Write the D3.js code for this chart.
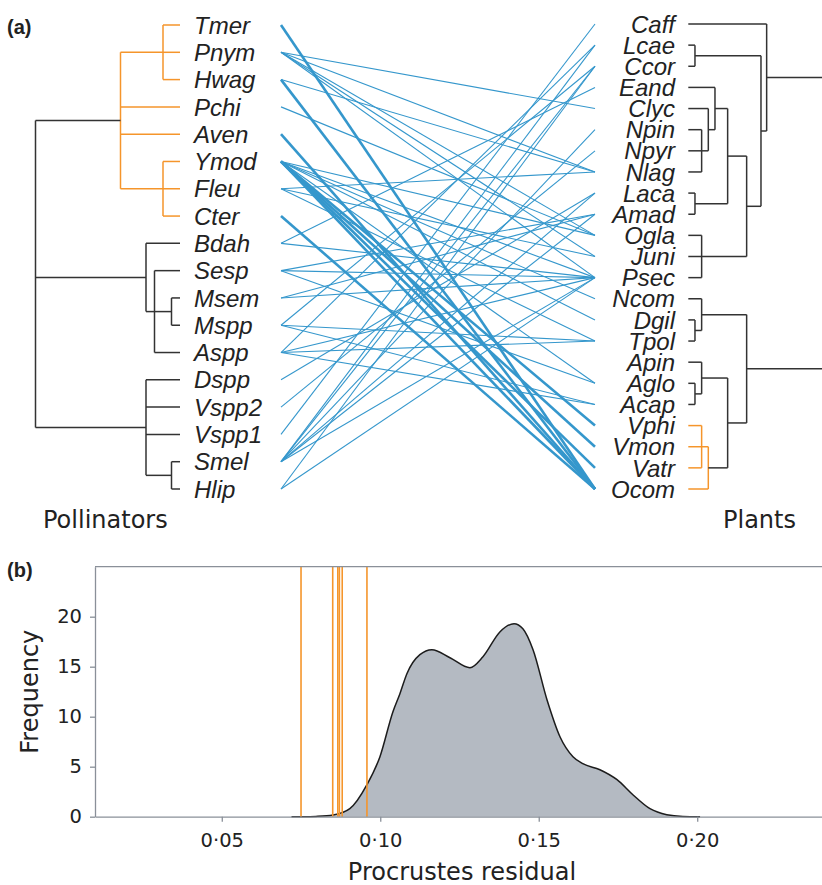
<!DOCTYPE html>
<html><head><meta charset="utf-8">
<script src="https://cdn.jsdelivr.net/npm/d3@7"></script>
<style>body{margin:0;background:#fff}</style>
</head><body>
<svg id="c" width="822" height="885"></svg>
<script>
// ---------------- DATA ----------------
const pollinators = ["Tmer","Pnym","Hwag","Pchi","Aven","Ymod","Fleu","Cter","Bdah","Sesp","Msem","Mspp","Aspp","Dspp","Vspp2","Vspp1","Smel","Hlip"];
const plants = ["Caff","Lcae","Ccor","Eand","Clyc","Npin","Npyr","Nlag","Laca","Amad","Ogla","Juni","Psec","Ncom","Dgil","Tpol","Apin","Aglo","Acap","Vphi","Vmon","Vatr","Ocom"];

// dendrograms: h = merge height, c = children, hl = highlighted clade
const pollinatorTree = {h:17, c:[
  {h:7, hl:true, c:[{h:2, c:["Tmer","Pnym","Hwag"]}, "Pchi", "Aven", {h:2, c:["Ymod","Fleu","Cter"]}]},
  {h:4, c:["Bdah", {h:3, c:["Sesp", {h:1, c:["Msem","Mspp"]}, "Aspp"]}]},
  {h:4, c:["Dspp","Vspp2","Vspp1", {h:1, c:["Smel","Hlip"]}]}
]};
const plantTree = {h:22, c:[
  {h:11.75, c:["Caff", {h:10.9, c:[{h:1, c:["Lcae","Ccor"]},
     {h:8.75, c:[{h:5.9, c:[{h:4, c:["Eand", {h:3, c:["Clyc", {h:2, c:["Npin","Npyr","Nlag"]}]}]}, {h:1, c:["Laca","Amad"]}]},
                 {h:2, c:["Ogla","Juni","Psec"]}]}]}]},
  {h:8.75, c:[{h:2, c:["Ncom", {h:1, c:["Dgil","Tpol"]}]},
     {h:5.9, c:[{h:2, c:["Apin", {h:1, c:["Aglo","Acap"]}]},
                {h:3, hl:true, c:[{h:2, c:["Vphi","Vmon","Vatr"]}, "Ocom"]}]}]}
]};

// interaction links
const coreLinks = [["Tmer","Ocom"],["Hwag","Ocom"],["Aven","Ocom"],["Cter","Ocom"],
  ["Ymod","Vphi"],["Ymod","Vmon"],["Ymod","Vatr"],["Ymod","Ocom"]];
const otherLinks = [
  ["Pnym","Clyc"],["Pnym","Nlag"],["Pnym","Ogla"],["Pnym","Juni"],["Pnym","Psec"],
  ["Hwag","Nlag"],["Pchi","Ogla"],
  ["Ymod","Ogla"],["Ymod","Psec"],["Ymod","Ncom"],["Ymod","Dgil"],["Ymod","Aglo"],
  ["Fleu","Nlag"],["Fleu","Juni"],["Fleu","Tpol"],
  ["Bdah","Eand"],["Bdah","Psec"],
  ["Sesp","Psec"],["Sesp","Aglo"],["Sesp","Amad"],
  ["Msem","Psec"],["Msem","Amad"],
  ["Mspp","Ccor"],["Mspp","Tpol"],["Mspp","Acap"],
  ["Aspp","Lcae"],["Aspp","Psec"],["Aspp","Tpol"],["Aspp","Acap"],
  ["Dspp","Laca"],["Vspp2","Npyr"],["Vspp1","Caff"],
  ["Smel","Lcae"],["Smel","Ccor"],["Smel","Npin"],["Smel","Laca"],["Smel","Amad"],["Smel","Psec"],
  ["Hlip","Ccor"],["Hlip","Psec"]
];

// panel b
const nullResidual = [0.072,0.0760,0.0797,0.0851,0.0904,0.0958,0.0999,0.1040,0.1062,0.1084,0.1125,0.1163,0.1220,0.1283,0.1324,0.1378,0.1422,0.1450,0.1482,0.1526,0.1567,0.1608,0.1639,0.1693,0.1747,0.1797,0.1851,0.1904,0.1955,0.2009];
const nullFrequency = [0,0,0.03,0.17,0.8,3.2,6.0,10.5,12.3,14.3,16.2,16.7,15.9,14.9,16.0,18.5,19.3,18.8,16.7,11.7,8.0,6.0,5.3,4.7,3.7,2.2,0.8,0.2,0.03,0];
const observedResidual = [0.0750,0.0850,0.0866,0.0871,0.0880,0.0958];
const xTicks = [0.05,0.10,0.15,0.20];
const yTicks = [0,5,10,15,20];

// ---------------- DRAW ----------------
const svg = d3.select("#c");
const BLUE = "#3597cc", ORANGE = "#f5952b", DARK = "#333333", TXT = "#222222";
const labelFont = "'Liberation Sans', Arial, sans-serif";
const dv = "'DejaVu Sans', sans-serif";

const yP = d3.scalePoint().domain(pollinators).range([25, 489]);
const yQ = d3.scalePoint().domain(plants).range([24, 489]);
const xLeftTree = d3.scaleLinear().domain([0, 17]).range([180, 35.5]);
const xRightTree = d3.scaleLinear().domain([0, 22]).range([688.3, 835]);

function drawTree(g, tree, yOf, xs) {
  function rec(n, hl) {
    if (typeof n === "string") return {y: yOf(n), h: 0};
    const isHl = hl || !!n.hl;
    const kids = n.c.map(k => rec(k, isHl));
    const col = isHl ? ORANGE : DARK;
    const y0 = kids[0].y, y1 = kids[kids.length - 1].y;
    kids.forEach(k => g.append("line")
      .attr("x1", xs(k.h)).attr("x2", xs(n.h)).attr("y1", k.y).attr("y2", k.y)
      .attr("stroke", col).attr("stroke-width", 1.5));
    g.append("line").attr("x1", xs(n.h)).attr("x2", xs(n.h)).attr("y1", y0).attr("y2", y1)
      .attr("stroke", col).attr("stroke-width", 1.5);
    return {y: (y0 + y1) / 2, h: n.h};
  }
  rec(tree, false);
}
const gTrees = svg.append("g");
drawTree(gTrees.append("g"), pollinatorTree, yP, xLeftTree);
drawTree(gTrees.append("g"), plantTree, yQ, xRightTree);

// links
const xL = 281, xR = 595;
const gLinks = svg.append("g");
gLinks.selectAll("line.o").data(otherLinks).join("line")
  .attr("x1", xL).attr("y1", d => yP(d[0])).attr("x2", xR).attr("y2", d => yQ(d[1]))
  .attr("stroke", BLUE).attr("stroke-width", 1.1);
gLinks.selectAll("line.c").data(coreLinks).join("line")
  .attr("x1", xL).attr("y1", d => yP(d[0])).attr("x2", xR).attr("y2", d => yQ(d[1]))
  .attr("stroke", BLUE).attr("stroke-width", 2.6);

// labels
svg.append("g").selectAll("text").data(pollinators).join("text")
  .attr("x", 194).attr("y", d => yP(d)).attr("dy", "0.36em")
  .attr("font-family", labelFont).attr("font-style", "italic").attr("font-size", 24)
  .attr("fill", TXT).text(d => d);
svg.append("g").selectAll("text").data(plants).join("text")
  .attr("x", 675).attr("y", d => yQ(d)).attr("dy", "0.36em").attr("text-anchor", "end")
  .attr("font-family", labelFont).attr("font-style", "italic").attr("font-size", 24)
  .attr("fill", TXT).text(d => d);

svg.append("text").attr("x", 7).attr("y", 34).attr("font-family", labelFont).attr("font-weight", "bold")
  .attr("font-size", 20).attr("fill", TXT).text("(a)");
svg.append("text").attr("x", 7).attr("y", 577).attr("font-family", labelFont).attr("font-weight", "bold")
  .attr("font-size", 20).attr("fill", TXT).text("(b)");
svg.append("text").attr("x", 43).attr("y", 528).attr("font-family", dv).attr("font-size", 24)
  .attr("fill", TXT).text("Pollinators");
svg.append("text").attr("x", 723).attr("y", 528).attr("font-family", dv).attr("font-size", 24)
  .attr("fill", TXT).text("Plants");

// ---------- panel b ----------
const x = d3.scaleLinear().domain([0.01, 0.24]).range([95, 824]);
const y = d3.scaleLinear().domain([0, 25]).range([816.7, 566.7]);
const GRAY = "#8a9099";
const gb = svg.append("g");
const dens = nullResidual.map((r, i) => [r, nullFrequency[i]]);
gb.append("path").datum(dens)
  .attr("d", d3.area().x(d => x(d[0])).y0(y(0)).y1(d => y(d[1])).curve(d3.curveMonotoneX))
  .attr("fill", "#b4bac2");
gb.append("path").datum(dens)
  .attr("d", d3.line().x(d => x(d[0])).y(d => y(d[1])).curve(d3.curveMonotoneX))
  .attr("fill", "none").attr("stroke", "#1c1c1c").attr("stroke-width", 1.5);
gb.selectAll("line.obs").data(observedResidual).join("line")
  .attr("x1", d => x(d)).attr("x2", d => x(d)).attr("y1", y(25)).attr("y2", y(0))
  .attr("stroke", ORANGE).attr("stroke-width", 1.6);

// spines
gb.append("line").attr("x1", 95).attr("x2", 824).attr("y1", y(25)).attr("y2", y(25)).attr("stroke", GRAY).attr("stroke-width", 1.3);
const fmt = d => d3.format(".2f")(d).replace(".", "·");
const xa = gb.append("g").attr("transform", `translate(0,${y(0)})`)
  .call(d3.axisBottom(x).tickValues(xTicks).tickFormat(fmt).tickSize(5).tickPadding(11).tickSizeOuter(0));
const ya = gb.append("g").attr("transform", `translate(95,0)`)
  .call(d3.axisLeft(y).tickValues(yTicks).tickSize(5).tickPadding(8).tickSizeOuter(0));
[xa, ya].forEach(a => {
  a.select(".domain").attr("stroke", GRAY).attr("stroke-width", 1.3);
  a.selectAll(".tick line").attr("stroke", GRAY).attr("stroke-width", 1.3);
  a.selectAll(".tick text").attr("font-family", dv).attr("font-size", 19.5).attr("fill", TXT);
});
gb.append("text").attr("transform", "translate(38,691.7) rotate(-90)").attr("text-anchor", "middle")
  .attr("font-family", dv).attr("font-size", 24).attr("fill", TXT).text("Frequency");
gb.append("text").attr("x", 462).attr("y", 880).attr("text-anchor", "middle")
  .attr("font-family", dv).attr("font-size", 24).attr("fill", TXT).text("Procrustes residual");
</script>
</body></html>
